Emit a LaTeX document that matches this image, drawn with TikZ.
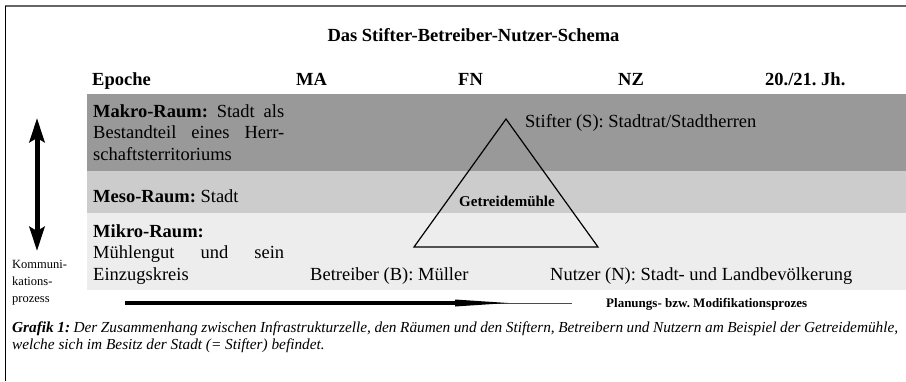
\documentclass[tikz,border=0pt]{standalone}
\usepackage{fontspec}
\setmainfont{Liberation Serif}
\usetikzlibrary{arrows.meta}
\frenchspacing

\begin{document}
\begin{tikzpicture}[x=1pt,y=-1pt,
	txt/.style={inner sep=0pt,anchor=base west,font=\fontsize{18.5}{21.5}\selectfont},
	kopf/.style={txt,font=\fontsize{18.5}{21.5}\selectfont\bfseries},
	raum/.style={txt,text width=191pt,align=justify},
	klein/.style={inner sep=0pt,anchor=base west,font=\fontsize{13}{15}\selectfont\bfseries},
	pfeilspitze/.tip={Stealth[length=24pt,width=15pt,inset=4pt]},
]
	\useasboundingbox (0,0) rectangle (906,381);
	% Rahmen
	\draw[black!60,line width=2pt] (5,6) -- (906,6);
	\draw[line width=1pt] (5,6) -- (5,381);
	% Raeume
	\fill[black!40] (87,94) rectangle (906,171);
	\fill[black!20] (87,171) rectangle (906,213);
	\fill[black!7] (87,213) rectangle (906,290);

	\node[kopf,anchor=base] (titel) at (473.5,41) {Das Stifter-Betreiber-Nutzer-Schema};
	\foreach \x/\t [count=\i] in {92/Epoche,296/MA,458/FN,618/NZ,765/{20./21. Jh.}}{
		\node[kopf] (kopf-\i) at (\x,85) {\t};
	}

	\node[raum] (makro) at (93,117)
		{\textbf{Makro-Raum:} Stadt als\linebreak Bestandteil eines Herr-\linebreak schaftsterritoriums};
	\node[raum] (meso) at (93,202) {\textbf{Meso-Raum:} Stadt};
	\node[raum] (mikro) at (93,237)
		{\textbf{Mikro-Raum:}\\ Mühlengut und sein\linebreak Einzugskreis};

	% Dreieck
	\coordinate (S) at (506,119);
	\coordinate (B) at (414,247);
	\coordinate (N) at (598,247);
	\draw[line width=1.2pt] (S) -- (B) -- (N) -- cycle;
	\node[inner sep=0pt,anchor=base,font=\fontsize{15}{17}\selectfont\bfseries]
		(muehle) at (507,206) {Getreidemühle};
	\node[txt] (stifter) at (525,127) {Stifter (S): Stadtrat/Stadtherren};
	\node[txt] (betreiber) at (310,280) {Betreiber (B): Müller};
	\node[txt] (nutzer) at (550,280) {Nutzer (N): Stadt- und Landbevölkerung};

	% Kommunikationsprozess
	\coordinate (k-oben) at (37,118);
	\coordinate (k-unten) at (37,251);
	\draw[line width=5pt,pfeilspitze-pfeilspitze] (k-oben) -- (k-unten);
	\node[inner sep=0pt,anchor=base west,align=left,font=\fontsize{12.5}{17}\selectfont]
		(komm) at (12,302) {Kommuni-\\kations-\\prozess};

	% Planungsprozess
	\coordinate (p-start) at (125,303);
	\coordinate (p-mitte) at (455,303);
	\coordinate (p-spitze) at (508,303);
	\coordinate (p-ende) at (572,303);
	\draw[black!70,line width=1pt] (p-start) -- (p-ende);
	\draw[line width=4pt] (p-start) -- (p-mitte);
	\fill ([yshift=-3.5pt]p-mitte) -- (p-spitze) -- ([yshift=3.5pt]p-mitte) -- cycle;
	\node[klein] (planung) at (606,307) {Planungs- bzw. Modifikationsprozes};

	\node[inner sep=0pt,anchor=base west,text width=886pt,align=justify,
		font=\fontsize{15.3}{17}\selectfont\itshape] (grafik) at (12,332)
		{\textbf{Grafik 1:} Der Zusammenhang zwischen Infrastrukturzelle, den Räumen und den Stiftern, Betreibern und Nutzern am Beispiel der Getreidemühle,\linebreak welche sich im Besitz der Stadt (= Stifter) befindet.};
\end{tikzpicture}
\end{document}
